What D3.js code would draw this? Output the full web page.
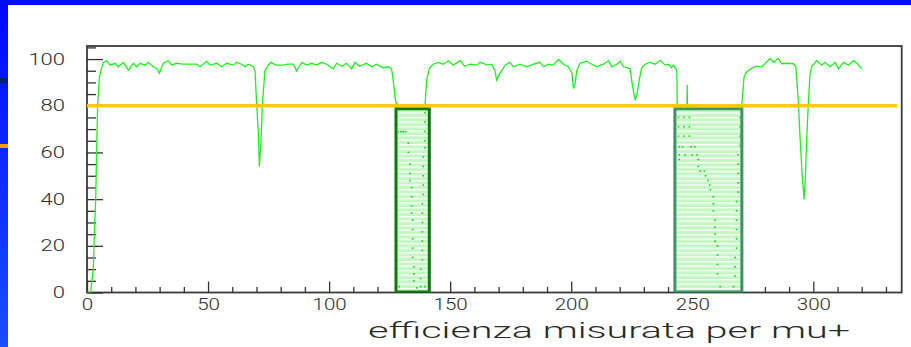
<!DOCTYPE html>
<html>
<head>
<meta charset="utf-8">
<script src="https://cdn.jsdelivr.net/npm/d3@7"></script>
<style>
  body { margin: 0; background: #fff; }
  svg { display: block; }
</style>
</head>
<body>
<div id="chart"></div>
<script>
// chart size
const width = 911;
const height = 347;

// bin position (x) and measured efficiency (%)
const binX = [0, 1, 1.5, 2.6, 3.2, 3.6, 4, 4.4, 5.1, 6, 6.7, 8.1, 9.5, 11.6, 12.9, 15, 17.1, 19.1, 20.5, 21.9, 24, 25.3, 27.4, 28.8, 29.9,
  31.5, 33.6, 35, 37, 39.8, 42.5, 45.3, 46.7, 49.4, 50.8, 53.6, 55.6, 57.7, 60.4, 61.8, 63.9, 65.3, 66.6, 68.7, 69.4,
  70.1, 70.8, 71.2, 71.9, 72.4, 73.5, 74.9, 76, 78, 81, 83, 85.2, 86.6, 88.7, 90.7, 92.8, 94.9, 96.9, 99, 101.7, 103.1,
  105.2, 107.2, 109.3, 110.7, 112.6, 115.4, 117.6, 119.6, 121, 122.4, 124.4, 125.8, 126.5, 127.2, 127.9, 128.5, 131.8,
  132.7, 133.4, 134.1, 134.5, 135, 136, 137.8, 138.5, 139, 139.6, 140.3, 141.4, 143, 145.1, 147.2, 149.2, 151.3, 154.1,
  156.1, 158.2, 161, 162.3, 163.7, 165.1, 167.2, 168.5, 169.2, 170.6, 172.7, 174.7, 176.1, 178.9, 181.6, 184.4, 187.1,
  188.5, 190.6, 192.6, 194.7, 196.8, 198.8, 200.3, 200.9, 201.6, 202.3, 203.6, 206.4, 208.5, 210.6, 213.3, 215.4, 216.8,
  218.8, 220.2, 221.6, 223, 224.3, 225.4, 226.4, 227.1, 228.1, 229.1, 230.5, 232.6, 234.6, 236.7, 238.8, 240.2, 241.5,
  242.2, 243.6, 243.8, 244.3, 247.6, 247.9, 248.2, 252, 256, 258.7, 259.4, 260.4, 261.5, 266, 267.7, 268.3, 269, 269.7,
  270.4, 271.4, 272.5, 274.5, 276.6, 278.7, 280, 282.1, 283.5, 285.5, 286.9, 289, 291.7, 292.8, 293.8, 294.5, 295.4,
  296.2, 296.7, 297.3, 297.9, 298.6, 299.3, 301.4, 303.5, 304.8, 306.9, 309, 310.4, 312.5, 314.5, 316.6, 318, 320];
const efficiency = [0, 0, 0, 10, 30, 40, 62, 80, 92, 96, 98.5, 99.3, 97.4, 98.2, 96.7, 98.6, 95.3, 98.2, 96.7, 98.2, 97.4, 98.6, 96.7, 96, 93.9,
  98.2, 99.3, 97.4, 98.2, 97.8, 97.8, 97.8, 96.7, 99, 97.4, 98.2, 96.7, 98.2, 97.4, 98.6, 97.8, 96.7, 97.8, 96.7, 95,
  80, 68, 54, 65, 80, 95, 97.5, 98.6, 97.4, 97.4, 97.8, 97.8, 95, 98.6, 97.4, 98.2, 97.4, 98.6, 97.8, 95.8, 98.2,
  96.9, 98.2, 95.8, 98.6, 96.9, 98.2, 96.7, 97.8, 96.9, 96.3, 96.7, 95.8, 91, 83.8, 80.3, 69, 69,
  62, 50, 40, 20, 6, 2, 5, 30, 60, 80, 91, 96, 97.8, 98.6, 97.8, 99.3, 97.4, 99.3,
  96.9, 97.8, 97.4, 98.6, 98.2, 97.4, 97.8, 95, 91, 94, 97.4, 98.6, 96.7, 97.8, 96.7, 97.8, 98.6,
  96.7, 97.8, 97.4, 99.8, 97.8, 96.7, 94, 87.4, 89.5, 95, 98.2, 99.1, 97.8, 96.7, 97.8, 99.3, 96.7,
  97.8, 99.1, 96.7, 96.3, 95.8, 88, 82.4, 84.6, 91, 96.3, 97.8, 98.6, 97.8, 99.5, 97.4, 97.8, 96.3,
  97.4, 95.3, 80, 70, 65, 89, 65, 58, 48, 40, 28, 12, 2, 2, 10, 30, 50, 75,
  80, 92.4, 94.6, 96, 97, 96.7, 98, 100.3, 98.6, 100.3, 98, 98.2, 98, 96.7, 82, 66.7, 50,
  40, 49, 66.7, 80, 93, 96.7, 99.3, 97.4, 98.6, 96.7, 98.6, 95.8, 98.6, 97.4, 99.3, 98.2, 95.8];

// threshold and dead regions
const threshold = 80;
const deadRegions = [[127, 142], [242.2, 271.1]];
const deadColors = ["#0b7a0b", "#3a9466"];

// dotted efficiency measured inside the dead regions [x, eff]
const deadDots = [
  [128.6, 68.9], [129.6, 68.9], [130.6, 68.9], [131.6, 68.9], [132.7, 64], [132.7, 60], [133.4, 55], [133.4, 51], [133.4, 48],
  [134.1, 45], [134.1, 41], [134.1, 37], [134.1, 34], [134.5, 31], [134.5, 27], [134.5, 23], [134.5, 19], [134.5, 15],
  [135, 11], [135, 8], [135, 5], [136.2, 2], [129, 2.5],
  [139.6, 77], [139.6, 73], [139.6, 69], [139.6, 65], [139.6, 62], [138.9, 58], [138.9, 54], [138.9, 50], [138.9, 46],
  [138.9, 42], [138.5, 38], [138.5, 34], [138.5, 30], [138.5, 26], [138.5, 22], [138.5, 18], [138.5, 14], [137.8, 10],
  [137.8, 6], [137.8, 2.5], [139.6, 2.5],
  [244.3, 79], [246.6, 79], [248.8, 79], [244.3, 75], [246.6, 75], [248.8, 75], [244.3, 71], [246.6, 71], [248.8, 71],
  [244.3, 67], [246.6, 67], [248.8, 67], [244.6, 62.4], [246, 62.4], [249.5, 62.4], [251, 62.4], [244.6, 59], [247, 59],
  [250, 59], [252, 59], [244.6, 57], [252.5, 57], [252.5, 54], [253.3, 52], [255, 52], [255.5, 50], [256.5, 48],
  [257.2, 46], [257.5, 44], [258.7, 41], [258.7, 38], [258.7, 35], [259.4, 31], [259.4, 28], [259.4, 25], [259.4, 22],
  [260.4, 20], [260.4, 16], [260.4, 12], [260.4, 8], [261.5, 2.5],
  [269.7, 79], [269.7, 75], [269.7, 71], [269.7, 67], [269.7, 63], [269, 59], [269, 55], [269, 51], [269, 47], [269, 43],
  [268.3, 39], [268.3, 35], [268.3, 31], [268.3, 27], [268.3, 23], [268.3, 19], [267.7, 15], [267.7, 11], [267.7, 7], [267, 2.5]
];

// axis ticks
const xMajor = [0, 50, 100, 150, 200, 250, 300];
const xMinor = d3.range(10, 340, 10).filter(v => v % 50 !== 0);
const yMajor = [0, 20, 40, 60, 80, 100];
const yMinor = [5, 10, 15, 25, 30, 35, 45, 50, 55, 65, 70, 75, 85, 90, 95, 105];
const xTitle = "efficienza misurata per mu+";

//Frame geometry
const frame = { left: 87, right: 901.7, top: 46, bottom: 292.5 };

const svg = d3.select("#chart").append("svg").attr("width", width).attr("height", height);
const defs = svg.append("defs");

//Slide background: blue strips on the top and left
const grad = defs.append("linearGradient").attr("id", "blueGrad").attr("x1", 0).attr("y1", 0).attr("x2", 0).attr("y2", 1);
grad.append("stop").attr("offset", "0%").attr("stop-color", "#0008ff");
grad.append("stop").attr("offset", "100%").attr("stop-color", "#1a4dff");
svg.append("rect").attr("width", width).attr("height", height).attr("fill", "#fff");
svg.append("rect").attr("x", 0).attr("y", 0).attr("width", width).attr("height", 5).attr("fill", "#0010ff");
svg.append("rect").attr("x", 0).attr("y", 0).attr("width", 8).attr("height", height).attr("fill", "url(#blueGrad)");
svg.append("rect").attr("x", 0).attr("y", 78).attr("width", 8).attr("height", 5).attr("fill", "#00207a");
svg.append("rect").attr("x", 0).attr("y", 144).attr("width", 8).attr("height", 4).attr("fill", "#ff9a00");

//Hatched fill for dead regions
const pat = defs.append("pattern").attr("id", "hatch").attr("patternUnits", "userSpaceOnUse")
  .attr("width", 10).attr("height", 4.5);
pat.append("rect").attr("width", 10).attr("height", 4.5).attr("fill", "#c4f7c4");
pat.append("rect").attr("width", 10).attr("height", 1.3).attr("fill", "#ffffff");

defs.append("clipPath").attr("id", "plotClip").append("rect")
  .attr("x", frame.left).attr("y", frame.top)
  .attr("width", frame.right - frame.left).attr("height", frame.bottom - frame.top);

//Scales
const x = d3.scaleLinear().domain([0, 336.5]).range([frame.left, frame.right]);
const y = d3.scaleLinear().domain([0, 105.6]).range([frame.bottom, frame.top]);

//Frame
svg.append("rect").attr("x", frame.left).attr("y", frame.top)
  .attr("width", frame.right - frame.left).attr("height", frame.bottom - frame.top)
  .attr("fill", "none").attr("stroke", "#3a3a3a").attr("stroke-width", 1.8);

//Axes with inward ticks
const fontFam = "Roboto, 'DejaVu Sans', sans-serif";
const styleAxis = (g, perChar) => {
  g.select(".domain").remove();
  g.selectAll("line").attr("stroke", "#333").attr("stroke-width", 1.3);
  g.selectAll("text").attr("fill", "#2a2a2a").style("font-family", fontFam).style("font-size", "16px")
    .style("font-weight", 300)
    .attr("textLength", d => String(d).length * perChar).attr("lengthAdjust", "spacingAndGlyphs");
};
svg.append("g").attr("transform", `translate(0, ${frame.bottom})`)
  .call(d3.axisBottom(x).tickValues(xMinor).tickSize(-5.5).tickFormat(""))
  .call(g => styleAxis(g, 0));
svg.append("g").attr("transform", `translate(0, ${frame.bottom})`)
  .call(d3.axisBottom(x).tickValues(xMajor).tickSize(-11).tickPadding(6).tickFormat(d3.format("d")))
  .call(g => styleAxis(g, 11.4));
svg.append("g").attr("transform", `translate(${frame.left}, 0)`)
  .call(d3.axisLeft(y).tickValues(yMinor).tickSize(-9).tickFormat(""))
  .call(g => styleAxis(g, 0));
svg.append("g").attr("transform", `translate(${frame.left}, 0)`)
  .call(d3.axisLeft(y).tickValues(yMajor).tickSize(-16).tickPadding(22).tickFormat(d3.format("d")))
  .call(g => styleAxis(g, 12.2));

//Efficiency curve
const plot = svg.append("g").attr("clip-path", "url(#plotClip)");
const line = d3.line().x(d => x(d[0])).y(d => y(d[1]));
plot.append("path")
  .datum(binX.map((v, i) => [v, efficiency[i]]))
  .attr("d", line)
  .attr("fill", "none").attr("stroke", "#1ef01e").attr("stroke-width", 1.3);

//Dead regions boxes
plot.selectAll("rect.dead").data(deadRegions).enter().append("rect")
  .attr("class", "dead")
  .attr("x", d => x(d[0]) + 1.5)
  .attr("y", y(threshold) + 3)
  .attr("width", d => x(d[1]) - x(d[0]) - 3)
  .attr("height", d => y(0) - y(threshold) - 3.5)
  .attr("fill", "url(#hatch)")
  .attr("stroke", (d, i) => deadColors[i])
  .attr("stroke-width", 3);

//Dotted points inside the boxes
plot.selectAll("rect.dot").data(deadDots).enter().append("rect")
  .attr("class", "dot")
  .attr("x", d => x(d[0]) - 0.8).attr("y", d => y(d[1]) - 0.8)
  .attr("width", 1.6).attr("height", 1.6)
  .attr("fill", "#10d810");

//Threshold line
svg.append("line")
  .attr("x1", x(0)).attr("x2", 897)
  .attr("y1", y(threshold)).attr("y2", y(threshold))
  .attr("stroke", "#ffc800").attr("stroke-width", 3.5);

//Axis title
svg.append("text").attr("x", 850).attr("y", 338).attr("text-anchor", "end")
  .attr("textLength", 482).attr("lengthAdjust", "spacingAndGlyphs")
  .style("font-family", fontFam).style("font-size", "22px").style("font-weight", 300).attr("fill", "#2a2a2a")
  .text(xTitle);
</script>
</body>
</html>
